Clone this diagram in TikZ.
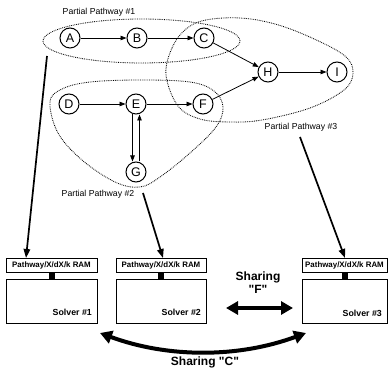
\documentclass[tikz,border=0pt]{standalone}
\usepackage{fontspec}
\setmainfont{Liberation Sans}[Ligatures=TeXOff]
\usetikzlibrary{arrows.meta}
\begin{document}
\begin{tikzpicture}[x=1pt,y=-1pt,
  st/.style={circle, draw, line width=1pt, minimum size=20pt, inner sep=0pt, font=\fontsize{12.5}{13}\selectfont},
  edge/.style={-{Triangle[length=6pt,width=4.5pt]}, line width=0.8pt},
  pw/.style={line width=0.85pt, dash pattern=on 0.8pt off 1pt},
  lbl/.style={inner sep=0pt, font=\fontsize{8.7}{10}\selectfont},
  ram/.style={draw, line width=0.8pt, minimum height=14pt, inner sep=0pt, font=\bfseries\fontsize{7.9}{8}\selectfont},
  solver/.style={draw, line width=0.8pt, minimum height=44pt, inner sep=0pt},
  soltxt/.style={anchor=east, inner sep=0pt, font=\bfseries\fontsize{8.8}{9}\selectfont},
  conn/.style={line width=6pt},
  big/.style={-{Triangle[length=9pt,width=6.5pt]}, line width=1.7pt},
  shr/.style={align=center, inner sep=0pt, font=\bfseries\fontsize{12}{13}\selectfont},
  fat/.style={{Triangle[length=12pt,width=13pt]}-{Triangle[length=12pt,width=13pt]}, line width=4pt}
]
\useasboundingbox (0,0) rectangle (391,371);

% pathway nodes
\node[st] (A) at (70,38) {A};
\node[st] (B) at (137,38) {B};
\node[st] (C) at (204,38) {C};
\node[st] (H) at (268,72) {H};
\node[st] (I) at (337,72) {I};
\node[st] (D) at (69,104) {D};
\node[st] (E) at (136,104) {E};
\node[st] (F) at (203,104) {F};
\node[st] (G) at (136,172) {G};

\draw[edge] (A) -- (B);
\draw[edge] (B) -- (C);
\draw[edge] (C) -- (H);
\draw[edge] (F) -- (H);
\draw[edge] (H) -- (I);
\draw[edge] (D) -- (E);
\draw[edge] (E) -- (F);
\draw[edge] ([xshift=-3.5pt]E.south) -- ([xshift=-3.5pt]G.north);
\draw[edge] ([xshift=3.5pt]G.north) -- ([xshift=3.5pt]E.south);

% partial pathways
\draw[pw] (141.5,41) ellipse [x radius=98.5pt, y radius=22pt];
\draw[pw] plot[smooth cycle, tension=0.6] coordinates {(166,75) (172,48) (186,29) (206,20) (240,18) (275,24) (312,38) (345,56) (353,73) (344,90) (310,108) (262,120) (230,122) (200,119) (178,106)};
\draw[pw] plot[smooth cycle, tension=0.6] coordinates {(50,102) (62,89) (90,82) (140,80) (190,82) (214,91) (223,107) (216,127) (190,153) (160,177) (140,187) (115,182) (82,160) (58,133)};

\node[lbl] (p1) at (99,12) {Partial Pathway \#1};
\node[lbl] (p2) at (98,194) {Partial Pathway \#2};
\node[lbl] (p3) at (301,127) {Partial Pathway \#3};

% solvers
\node[ram, minimum width=91pt] (r1) at (51.5,265) {Pathway/X/dX/k RAM};
\node[ram, minimum width=90pt] (r2) at (161,265) {Pathway/X/dX/k RAM};
\node[ram, minimum width=85pt] (r3) at (344.5,265) {Pathway/X/dX/k RAM};
\node[solver, minimum width=91pt] (s1) at (51.5,301) {};
\node[solver, minimum width=90pt] (s2) at (161,301) {};
\node[solver, minimum width=85pt] (s3) at (344.5,301) {};
\draw[conn] (r1.south) -- (s1.north);
\draw[conn] (r2.south) -- (s2.north);
\draw[conn] (r3.south) -- (s3.north);
\node[soltxt] (t1) at (92,312) {Solver \#1};
\node[soltxt] (t2) at (201,312) {Solver \#2};
\node[soltxt] (t3) at (382,313) {Solver \#3};

% assignment arrows
\coordinate (a1s) at (47,56);
\coordinate (a1e) at (26,258);
\coordinate (a2s) at (143,193);
\coordinate (a2e) at (163,258);
\coordinate (a3s) at (300,137);
\coordinate (a3e) at (345,258);
\draw[big] (a1s) -- (a1e);
\draw[big] (a2s) -- (a2e);
\draw[big] (a3s) -- (a3e);

% sharing
\node[shr] (sf) at (258,283) {Sharing\\"F"};
\coordinate (f1) at (226,308);
\coordinate (f2) at (293,308);
\draw[fat] (f1) -- (f2);

\node[shr] (sc) at (205,362) {Sharing "C"};
\coordinate (c1) at (100,333);
\coordinate (c2) at (306,333);
\draw[fat] (c1) .. controls (168,358) and (238,358) .. (c2);
\end{tikzpicture}
\end{document}
